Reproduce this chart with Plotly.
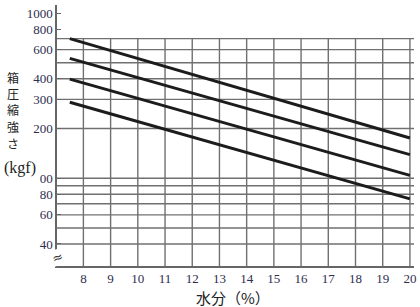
import plotly.graph_objects as go
import numpy as np

# Data
moisture = [7.5, 20]
line_values = [
    [700, 175],
    [531, 139],
    [398, 104],
    [288, 75],
]
x_ticks = list(range(8, 21))
y_tickvals = [1000, 800, 600, 400, 300, 200, 100, 80, 60, 40]
y_ticktext = ["1000", "800", "600", "400", "300", "200", "00", "80", "60", "40"]
grid_y = [700, 600, 500, 400, 300, 200, 100, 90, 80, 70, 60, 50, 40]
grid_top = 700

W, H = 420, 307
ML, MR, MT, MB = 57, 4, 5, 41
PW, PH = W - ML - MR, H - MT - MB
yr = [1.4685, 3.0485]
xr = [7.03, 20.15]
ymin = 10 ** yr[0]

def px(xp):
    return (xp - ML) / PW

def py(yp):
    return (H - MB - yp) / PH

GRID = "#707070"
INK = "#1c1c1c"
NUM = "#2e2e4e"
SERIF = "Liberation Serif"

fig = go.Figure()

# vertical grid lines from the bottom up to 700
vx, vy = [], []
for t in x_ticks:
    vx += [t, t, None]
    vy += [ymin, grid_top, None]
fig.add_trace(go.Scatter(x=vx, y=vy, mode="lines",
                         line=dict(color=GRID, width=1.4),
                         hoverinfo="skip", showlegend=False))

for vals in line_values:
    fig.add_trace(go.Scatter(x=moisture, y=vals, mode="lines",
                             line=dict(color=INK, width=3),
                             showlegend=False))

shapes = []
for g in grid_y:
    shapes.append(dict(type="line", xref="paper", yref="y", x0=0, x1=1,
                       y0=g, y1=g, line=dict(color=GRID, width=1.4), layer="below"))

annotations = []
# y-axis title (vertical stacked characters)
chars = ["箱", "圧", "縮", "強", "さ"]
ys = [77, 93.5, 110, 126.5, 143]
for c, yy in zip(chars, ys):
    annotations.append(dict(text=c, xref="paper", yref="paper", x=px(13), y=py(yy),
                            showarrow=False, xanchor="center", yanchor="middle",
                            borderpad=0,
                            font=dict(family="Noto Sans CJK JP", size=12, color="#222")))
annotations.append(dict(text="(kgf)", xref="paper", yref="paper", x=px(20), y=py(168),
                        showarrow=False, xanchor="center", yanchor="middle",
                        font=dict(family=SERIF, size=16, color="#222")))
annotations.append(dict(text="水分（%）", xref="paper", yref="paper", x=px(234), y=py(297),
                        showarrow=False, xanchor="center", yanchor="middle",
                        font=dict(family="Noto Sans CJK JP", size=15, color="#222")))
# axis break mark
annotations.append(dict(text="≈", xref="paper", yref="paper", x=px(57), y=py(257),
                        showarrow=False, xanchor="center", yanchor="middle",
                        textangle=-20, bgcolor="white", borderpad=0,
                        font=dict(family="DejaVu Sans", size=13, color="#333")))

fig.update_layout(
    width=W, height=H,
    margin=dict(l=ML, r=MR, t=MT, b=MB),
    paper_bgcolor="white", plot_bgcolor="white",
    shapes=shapes, annotations=annotations,
    xaxis=dict(range=xr, tickvals=x_ticks, showgrid=False, zeroline=False,
               showline=True, linecolor="#666", linewidth=1.5,
               ticks="", tickfont=dict(family=SERIF, size=13, color=NUM)),
    yaxis=dict(type="log", range=yr, tickvals=y_tickvals, ticktext=y_ticktext,
               showgrid=False, zeroline=False, showline=True, linecolor="#666",
               linewidth=1.5, ticks="inside", ticklen=4, tickcolor="#666",
               tickfont=dict(family=SERIF, size=13, color=NUM)),
)

fig.write_html("out.html")
